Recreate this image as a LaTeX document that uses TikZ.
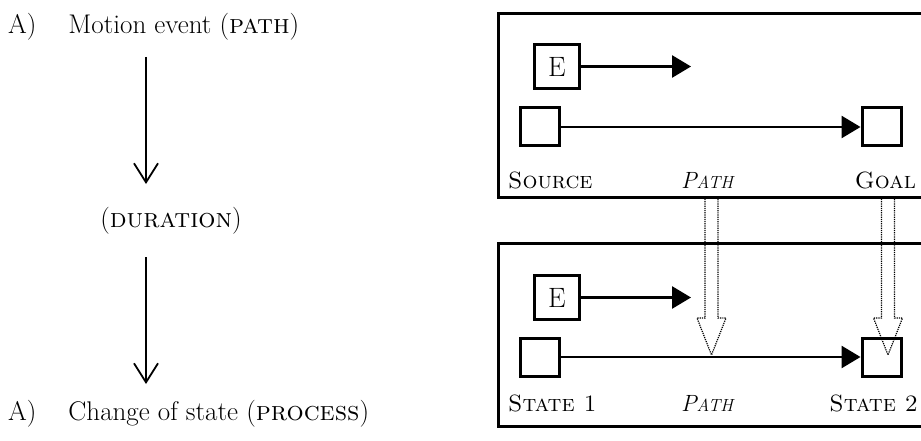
\documentclass[tikz,border=0pt]{standalone}
\usetikzlibrary{arrows.meta}

\begin{document}
\begin{tikzpicture}[x=1pt, y=-1pt,
    frame/.style ={draw, line width=3pt},
    spot/.style ={rectangle, draw, line width=3pt, inner sep=0pt,
      minimum width=39pt, minimum height=38pt},
    eventbox/.style ={rectangle, draw, line width=3pt, inner sep=0pt,
      minimum width=45pt, minimum height=44pt, font=\fontsize{28}{32}\selectfont},
    flow/.style ={line width=2.8pt, -{Triangle[length=19pt,width=22pt]}},
    stage/.style ={inner sep=0pt, font=\fontsize{27}{32}\selectfont},
    rolename/.style ={inner sep=0pt, font=\fontsize{23.5}{27}\selectfont},
    hollow/.style ={densely dotted, line width=1.2pt},
    timeline/.style ={line width=1.8pt, -{Straight Barb[length=19pt,width=24pt]}}]
   \useasboundingbox (0,0) rectangle (921,441);

   % left column
   \node[stage, anchor=base west] (motion) at (8,34)
     {A)\hspace{32pt}Motion event (\textsc{path})};
   \node[stage, anchor=base] (duration) at (171,227) {(\textsc{duration})};
   \node[stage, anchor=base west] (change) at (8,420)
     {A)\hspace{32pt}Change of state (\textsc{process})};
   \coordinate (a1) at (146,57);
   \coordinate (a2) at (146,184);
   \coordinate (b1) at (146,257);
   \coordinate (b2) at (146,384);
   \draw[timeline] (a1) to (a2);
   \draw[timeline] (b1) to (b2);

   % upper frame: motion
   \draw[frame] (498.5,13.5) rectangle (940,197.5);
   \node[eventbox] (E1) at (557,66.5) {E};
   \coordinate (E1end) at (691,66.5);
   \node[spot] (source) at (540,127) {};
   \node[spot] (goal) at (881.5,127) {};
   \draw[flow] (E1) to (E1end);
   \draw[flow] (source) to (goal);
   \node[rolename, anchor=base west] (sourcetext) at (508,189) {\textsc{Source}};
   \node[rolename, anchor=base] (pathtop) at (707,189)
     {\itshape P{\fontsize{17.5}{20}\selectfont ATH}};
   \node[rolename, anchor=base east] (goaltext) at (916,189) {\textsc{Goal}};

   % lower frame: change of state
   \draw[frame] (498.5,243.5) rectangle (940,426.5);
   \node[eventbox] (E2) at (557,297.5) {E};
   \coordinate (E2end) at (691,297.5);
   \node[spot] (state1) at (540,357) {};
   \node[spot] (state2) at (881.5,357) {};
   \draw[flow] (E2) to (E2end);
   \draw[flow] (state1) to (state2);
   \node[rolename, anchor=base west] (state1text) at (508,411) {\textsc{State 1}};
   \node[rolename, anchor=base] (pathbottom) at (707,411)
     {\itshape P{\fontsize{17.5}{20}\selectfont ATH}};
   \node[rolename, anchor=base east] (state2text) at (918,411) {\textsc{State 2}};

   % hollow mapping arrows
   \coordinate (m1top) at (711.5,199);
   \coordinate (m1tip) at (711.5,355);
   \coordinate (m2top) at (888,199);
   \coordinate (m2tip) at (888,355);
   \draw[hollow] ([xshift=-6.5pt]m1top) -- ([xshift=-6.5pt,yshift=37pt]m1tip)
     -- ([xshift=-14.5pt,yshift=37pt]m1tip) -- (m1tip)
     -- ([xshift=14.5pt,yshift=37pt]m1tip) -- ([xshift=6.5pt,yshift=37pt]m1tip)
     -- ([xshift=6.5pt]m1top);
   \draw[hollow] ([xshift=-6.5pt]m2top) -- ([xshift=-6.5pt,yshift=37pt]m2tip)
     -- ([xshift=-14.5pt,yshift=37pt]m2tip) -- (m2tip)
     -- ([xshift=14.5pt,yshift=37pt]m2tip) -- ([xshift=6.5pt,yshift=37pt]m2tip)
     -- ([xshift=6.5pt]m2top);
 \end{tikzpicture}
\end{document}
